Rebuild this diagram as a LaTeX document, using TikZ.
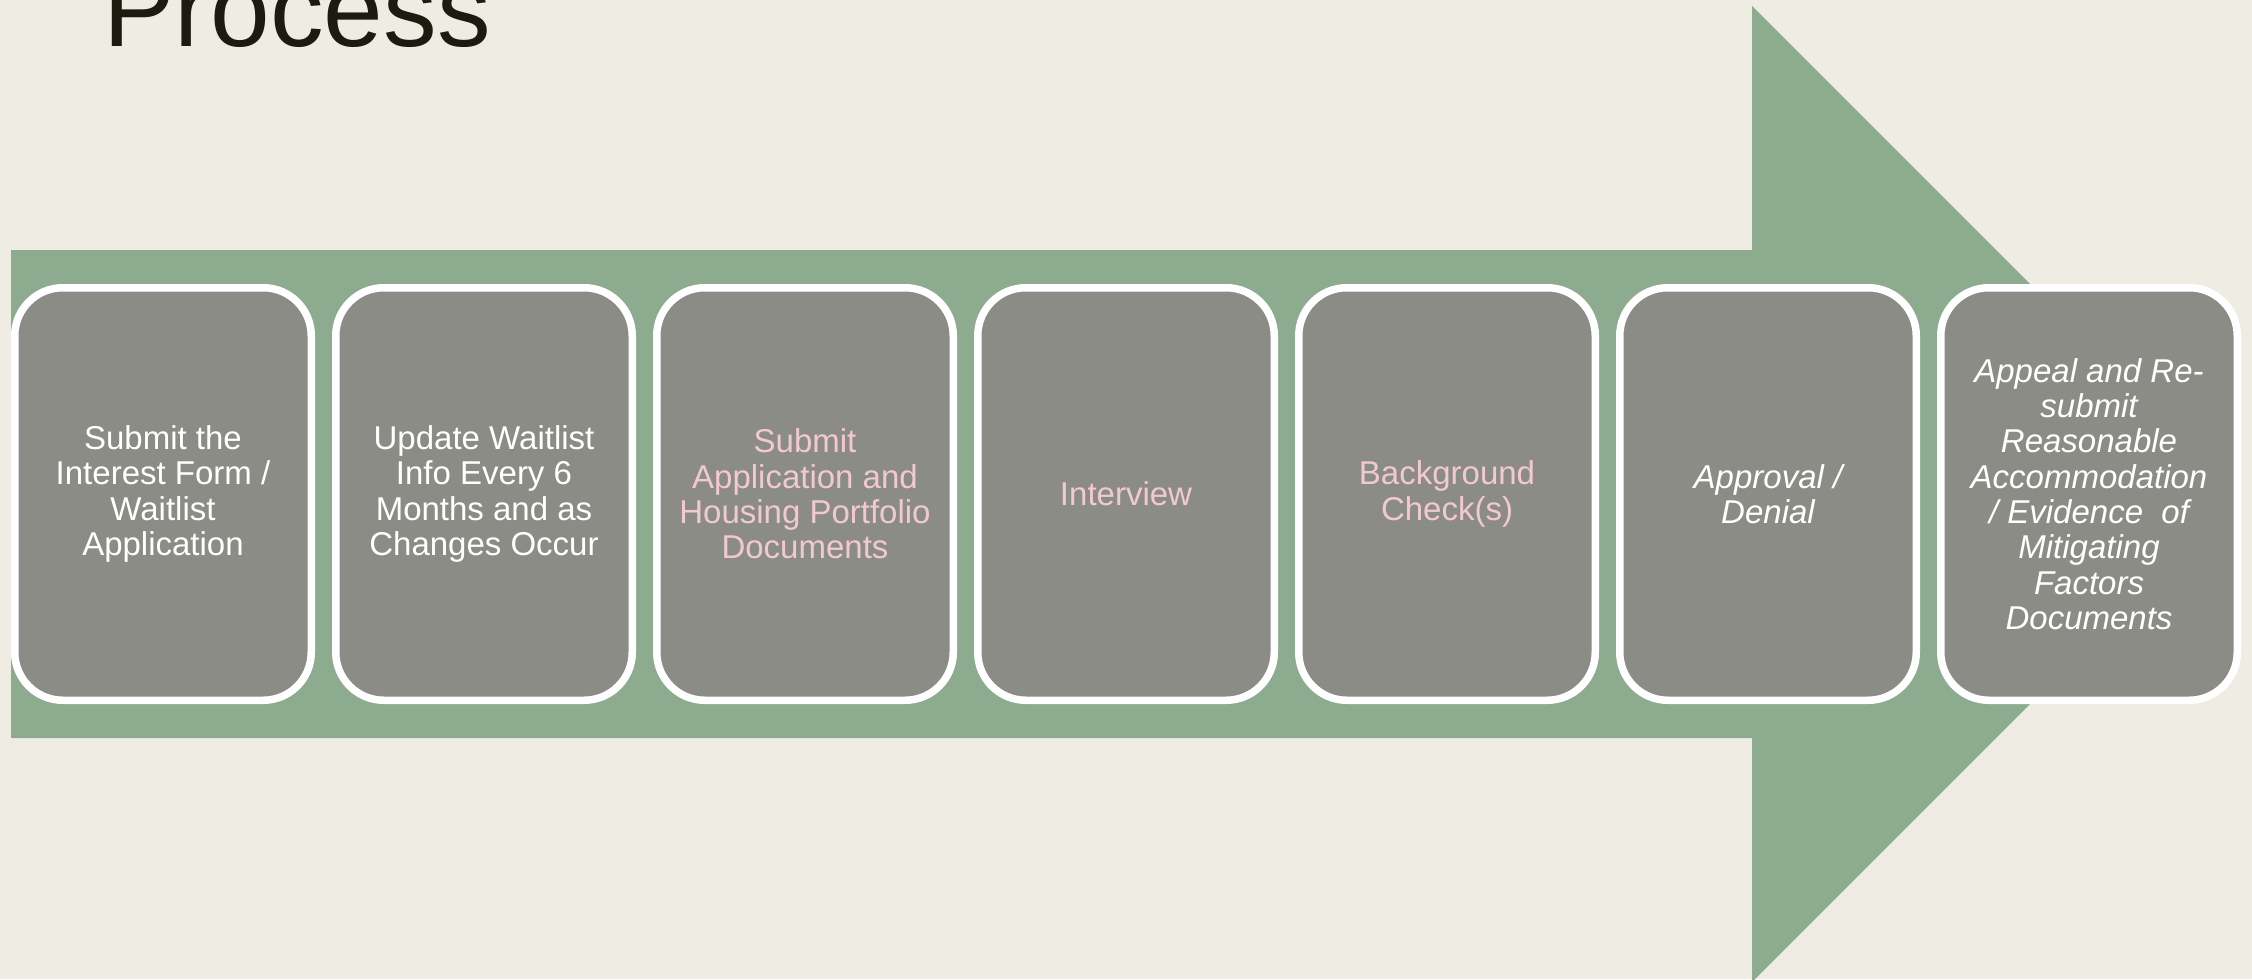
\documentclass[tikz,border=0pt]{standalone}
\usepackage{fontspec}
\setmainfont{Liberation Sans}
\definecolor{bgc}{HTML}{EFECE4}
\definecolor{arrowgreen}{HTML}{8DAB8F}
\definecolor{boxgray}{HTML}{8B8C85}
\definecolor{pinktext}{HTML}{F3C9D1}
\definecolor{titlec}{HTML}{1B1B0F}
\begin{document}
\begin{tikzpicture}[x=0.5pt,y=-0.5pt,
  stagebox/.style={draw=white, line width=3.75pt, fill=boxgray, rounded corners=24pt,
    minimum width=148.25pt, minimum height=206.25pt, inner sep=0pt, align=center,
    text=white, font=\fontsize{16.5pt}{17.65pt}\selectfont},
  pinkbox/.style={stagebox, text=pinktext},
  italbox/.style={stagebox, font=\fontsize{16.5pt}{17.65pt}\selectfont\itshape}]
\useasboundingbox (0,0) rectangle (2252,979);
\clip (0,0) rectangle (2252,979);
\fill[bgc] (0,0) rectangle (2252,979);
% big arrow
\fill[arrowgreen] (11,250) -- (1752,250) -- (1752,6) -- (2240,494) -- (1752,982)
  -- (1752,738) -- (11,738) -- cycle;
% title
\node[anchor=base west, inner sep=0pt, text=titlec, font=\fontsize{53.6pt}{60pt}\selectfont]
  (title) at (103,47) {Process};
% stages
\node[stagebox] (s1) at (163,494) {Submit the\\Interest Form /\\Waitlist\\Application};
\node[stagebox] (s2) at (484,494) {Update Waitlist\\Info Every 6\\Months and as\\Changes Occur};
\node[pinkbox] (s3) at (805,494) {Submit\\Application and\\Housing Portfolio\\Documents};
\node[pinkbox] (s4) at (1126,494) {Interview};
\node[pinkbox] (s5) at (1447,494) {Background\\Check(s)};
\node[italbox] (s6) at (1768,494) {Approval /\\Denial};
\node[italbox] (s7) at (2089,494) {Appeal and Re-\\submit\\Reasonable\\Accommodation\\/ Evidence\ \ of\\Mitigating\\Factors\\Documents};
\end{tikzpicture}
\end{document}
